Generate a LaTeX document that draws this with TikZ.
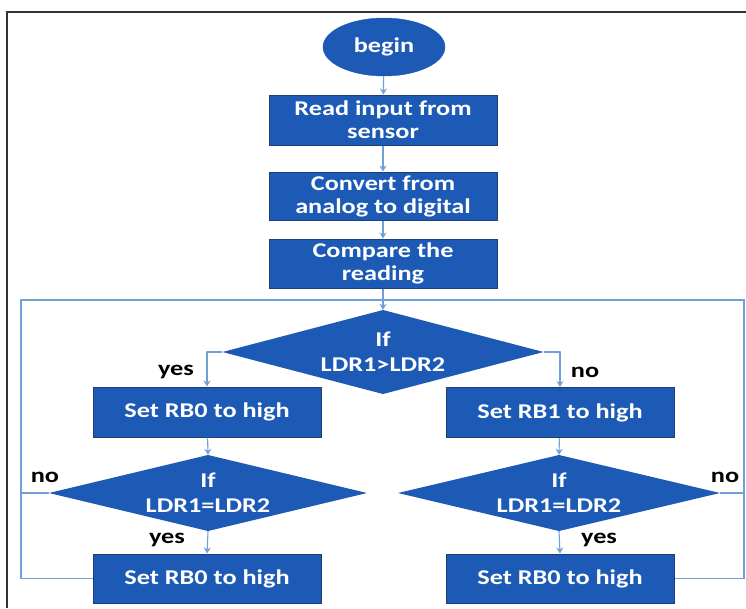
\documentclass[tikz,border=0pt]{standalone}
\usepackage{fontspec}
\setmainfont{Carlito}[FakeStretch=1.25]
\usetikzlibrary{shapes.geometric,arrows.meta}
\definecolor{boxblue}{RGB}{28,90,182}
\definecolor{edgeblue}{RGB}{30,62,118}
\definecolor{wireblue}{RGB}{112,160,218}
\begin{document}
\begin{tikzpicture}[x=1pt,y=-1pt,
  txt/.style={font=\bfseries\fontsize{21}{23}\selectfont},
  proc/.style={rectangle, fill=boxblue, draw=edgeblue, line width=1pt,
    text=white, txt, align=center, inner sep=0pt,
    minimum width=228pt, minimum height=50pt},
  % rectangle-shaped node whose inside is painted as a rhombus
  decide/.style={rectangle, inner sep=0pt, text=white,
    font=\bfseries\fontsize{21}{25}\selectfont, align=center,
    path picture={\fill[boxblue]
      (path picture bounding box.west) -- (path picture bounding box.north)
      -- (path picture bounding box.east) -- (path picture bounding box.south)
      -- cycle;}},
  term/.style={ellipse, fill=boxblue, draw=boxblue, text=white, txt,
    inner sep=0pt, minimum width=122pt, minimum height=58pt},
  wire/.style={draw=wireblue, line width=1.1pt},
  flow/.style={wire, -{Stealth[length=6pt,width=7pt]}},
  tag/.style={txt, text=black, inner sep=0pt}
]
\useasboundingbox (0,0) rectangle (746,608);
\fill[white] (0,0) rectangle (746,608);
% outer frame
\draw[black!80, line width=1.6pt] (7,608) -- (7,12) -- (746,12);

% main column
\node[term] (begin) at (384,47) {begin};
\node[proc] (read) at (383,120) {Read input from\\sensor};
\node[proc, minimum height=48pt] (conv) at (383,196) {Convert from\\analog to digital};
\node[proc, minimum height=49pt] (cmp) at (383,263.5) {Compare the\\reading};

% first decision
\node[decide, minimum width=321pt, minimum height=84pt] (d1) at (383,352) {If\\LDR1>LDR2};

% left branch
\node[proc] (setl) at (207,412) {Set RB0 to high};
\node[decide, minimum width=318pt, minimum height=76pt] (d2) at (208,493) {If\\LDR1=LDR2};
\node[proc, minimum height=49pt] (outl) at (207,578.5) {Set RB0 to high};

% right branch
\node[proc] (setr) at (560,412.5) {Set RB1 to high};
\node[decide, minimum width=322pt, minimum height=76pt] (d3) at (559,493) {If\\LDR1=LDR2};
\node[proc, minimum height=49pt] (outr) at (560,578.5) {Set RB0 to high};

% loop-back corners
\coordinate (lx) at (21,300);
\coordinate (rx) at (744,300);
\coordinate (top) at (383,300);

% connectors
\draw[flow] (begin) -- (read);
\draw[flow] (read) -- (conv);
\draw[flow] (conv) -- (cmp);
\draw[flow] (cmp) -- (d1.north);
\draw[flow] (d1.west) -- ++(-16,0) -| (setl.north);
\draw[flow] (d1.east) -- ++(17,0) -| (setr.north);
\draw[flow] (setl) -- (d2.north);
\draw[flow] (setr) -- (d3.north);
\draw[flow] (d2.south) -- (outl.north);
\draw[flow] (d3.south) -- (outr.north);

% returns to the comparison
\draw[wire] (outl.west) -| (lx) -- (top);
\draw[wire] (outr.east) -| (rx) -- (top);
\draw[wire] (d2.west) -- (d2.west -| lx);
\draw[wire] (d3.east) -- (d3.east -| rx);

% branch labels
\node[tag] (y1) at (176,372) {yes};
\node[tag] (n1) at (585,372) {no};
\node[tag] (n2) at (45,477) {no};
\node[tag] (y2) at (167,540) {yes};
\node[tag] (n3) at (725,477) {no};
\node[tag] (y3) at (599,540) {yes};
\end{tikzpicture}
\end{document}
